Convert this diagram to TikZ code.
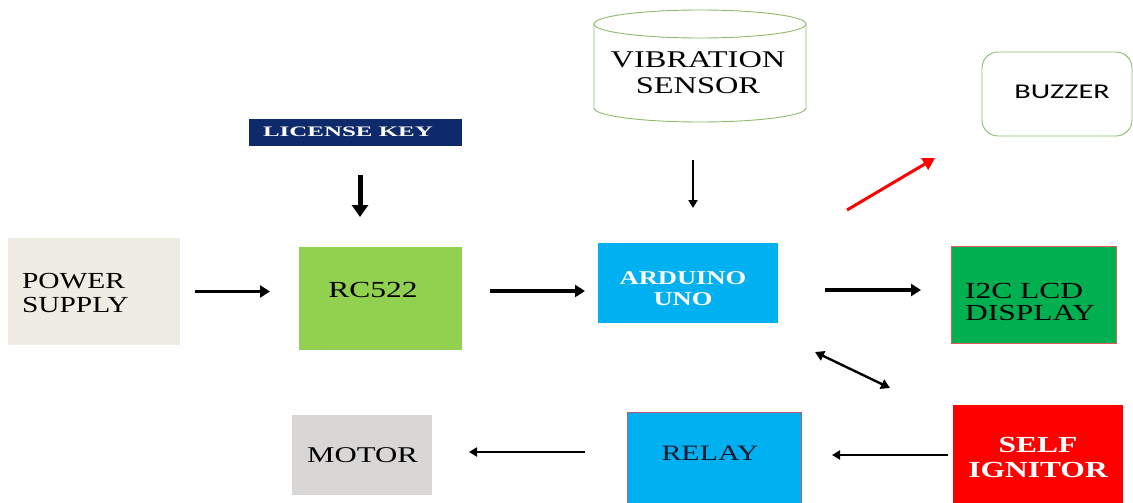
\documentclass[tikz,border=0pt]{standalone}
\usepackage{fontspec}
\setmainfont{Liberation Serif}
\newfontfamily\calib{Carlito}
\usepackage{graphicx}
\usetikzlibrary{arrows.meta,calc}
\newcommand{\wide}[2][1.5]{\scalebox{#1}[1]{#2}}
\renewcommand{\arraystretch}{1}
\definecolor{psfill}{HTML}{EFECE4}
\definecolor{rcfill}{HTML}{92D050}
\definecolor{licfill}{HTML}{0E2A6A}
\definecolor{blu}{HTML}{00B0F0}
\definecolor{lcdfill}{HTML}{00B050}
\definecolor{ignfill}{HTML}{FF0000}
\definecolor{motfill}{HTML}{D9D7D6}
\definecolor{grn}{HTML}{8DBB6E}
\definecolor{redln}{HTML}{E25A5A}
\definecolor{relln}{HTML}{B45A78}
\definecolor{reltxt}{HTML}{14192D}
\begin{document}
\begin{tikzpicture}[x=1pt,y=-1pt,
  box/.style={rectangle,inner sep=0pt,outer sep=0pt},
  lbl/.style={inner sep=0pt,outer sep=0pt,anchor=base},
  thk/.style={line width=3.6pt,-{Triangle[length=10pt,width=12pt]}},
  thn/.style={line width=2.4pt,-{Triangle[length=8pt,width=9pt]}},
  cyl/.style={draw=grn,line width=0.9pt},
]
\useasboundingbox (0,0) rectangle (1133,503);
% boxes
\node[box,fill=psfill,minimum width=172pt,minimum height=107pt] (ps) at (94,291.5) {};
\node[box,fill=rcfill,minimum width=163pt,minimum height=103pt] (rc) at (380.5,298.5) {};
\node[box,fill=licfill,minimum width=213pt,minimum height=27pt] (lic) at (355.5,132.5) {};
\node[box,fill=blu,minimum width=180pt,minimum height=80pt] (ard) at (688,283) {};
\node[box,fill=lcdfill,draw=redln,line width=0.7pt,minimum width=165pt,minimum height=97pt] (lcd) at (1033.5,294.5) {};
\node[box,fill=ignfill,minimum width=170pt,minimum height=105pt] (ign) at (1038,457.5) {};
\node[box,fill=blu,draw=relln,line width=0.8pt,minimum width=174pt,minimum height=98pt] (rel) at (714,461) {};
\node[box,fill=motfill,minimum width=140pt,minimum height=80pt] (mot) at (362,455) {};
\node[box,draw=grn,line width=0.9pt,rounded corners=16pt,minimum width=150pt,minimum height=84pt] (buz) at (1057,94) {};
% cylinder
\node[box,minimum width=212pt,minimum height=112pt] (vib) at (700,66) {};
\draw[cyl] (594,24) -- (594,108) arc[start angle=180,end angle=0,x radius=106,y radius=14] -- (806,24);
\draw[cyl] (700,24) ellipse[x radius=106,y radius=14];
% labels
\node[lbl,anchor=base west] (pst) at (22,312) {\fontsize{23}{23.5}\selectfont\wide[1.28]{\begin{tabular}[b]{@{}l@{}}POWER\\SUPPLY\end{tabular}}};
\node[lbl] (rct) at (373,297.5) {\fontsize{23}{23}\selectfont\wide[1.37]{RC522}};
\node[lbl,text=white] (lict) at (348,136) {\fontsize{14.5}{15}\selectfont\bfseries\wide[1.72]{LICENSE\ KEY}};
\node[lbl] (vibt) at (698,93) {\fontsize{24}{25}\selectfont\wide[1.35]{\begin{tabular}[b]{@{}c@{}}VIBRATION\\SENSOR\end{tabular}}};
\node[lbl,text=white] (ardt) at (683,305) {\fontsize{19.5}{21}\selectfont\bfseries\wide[1.36]{\begin{tabular}[b]{@{}c@{}}ARDUINO\\UNO\end{tabular}}};
\node[lbl,anchor=base west] (lcdt) at (965,320) {\fontsize{23}{22}\selectfont\wide[1.37]{\begin{tabular}[b]{@{}l@{}}I2C LCD\\DISPLAY\end{tabular}}};
\node[lbl,text=white] (ignt) at (1038,477) {\fontsize{23}{25}\selectfont\bfseries\wide[1.37]{\begin{tabular}[b]{@{}c@{}}SELF\\IGNITOR\end{tabular}}};
\node[lbl,text=reltxt] (relt) at (710,460.5) {\fontsize{22}{22}\selectfont\wide[1.36]{RELAY}};
\node[lbl] (mott) at (362.5,462.5) {\fontsize{22.5}{22}\selectfont\wide[1.37]{MOTOR}};
\node[lbl] (buzt) at (1062,98.5) {\calib\fontsize{21}{22}\selectfont\wide[1.44]{BUZZER}};
% connectors
\draw[line width=5pt,-{Triangle[length=12pt,width=16pt]},shorten <=29pt,shorten >=30pt] ([xshift=4.5pt]lic.south) -- ([xshift=4.5pt]lic.south |- rc.north);
\draw[thk,shorten <=15pt,shorten >=29pt] (ps.east) -- (ps.east -| rc.west);
\draw[thk,shorten <=28pt,shorten >=13pt] ([yshift=7.5pt]rc.east) -- ([yshift=7.5pt]rc.east -| ard.west);
\draw[thn,shorten <=38pt,shorten >=35pt] ([xshift=-7pt]vib.south) -- ([xshift=-7pt]vib.south |- ard.north);
\draw[red,line width=3pt,-{Triangle[length=12pt,width=13pt]}] ($(ard.north east)+(69,-33)$) -- ($(buz.south west)+(-47,22)$);
\draw[thk,shorten <=47pt,shorten >=30pt] ([yshift=-7pt]ard.east) -- ([yshift=-7pt]ard.east -| lcd.west);
\draw[line width=2.4pt,{Triangle[length=9pt,width=10pt]}-{Triangle[length=9pt,width=10pt]}] ($(ard.south east)+(37,29)$) -- ($(ign.north west)+(-63,-17)$);
\draw[thn,shorten <=5pt,shorten >=31pt] ([yshift=2.5pt]ign.west) -- ([yshift=2.5pt]ign.west -| rel.east);
\draw[thn,shorten <=42pt,shorten >=37pt] ([yshift=9pt]rel.west) -- ([yshift=9pt]rel.west -| mot.east);
\end{tikzpicture}
\end{document}
